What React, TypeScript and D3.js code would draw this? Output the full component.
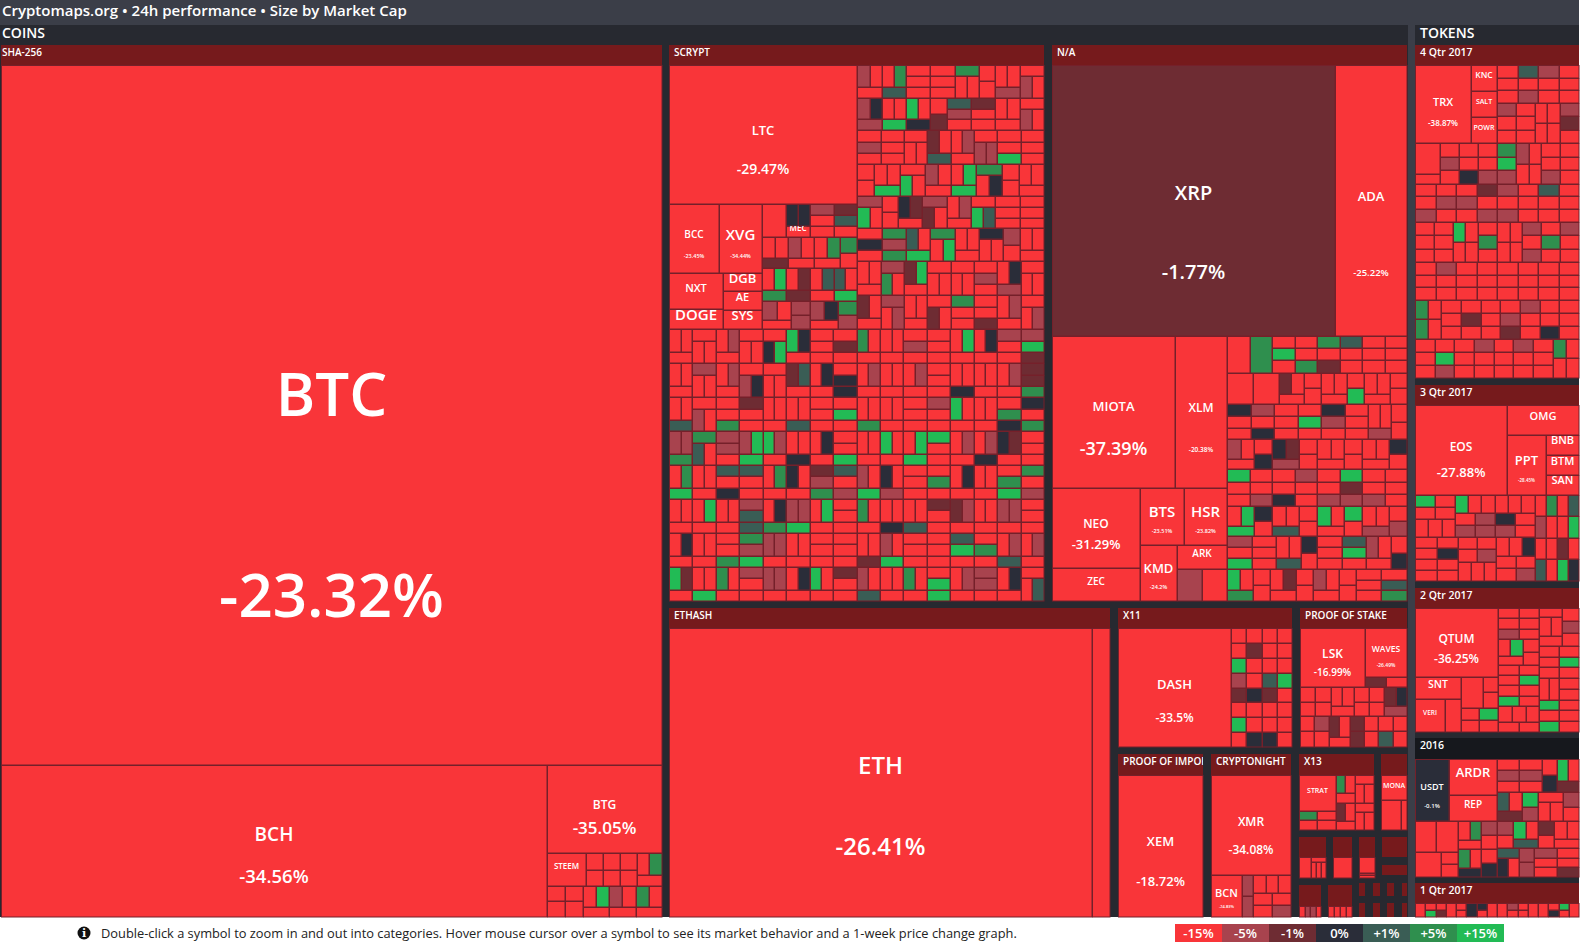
import React from "react";
import * as d3 from "d3";

// ---------- data ----------
const TITLE = "Cryptomaps.org • 24h performance • Size by Market Cap";
const FOOTER = "Double-click a symbol to zoom in and out into categories. Hover mouse cursor over a symbol to see its market behavior and a 1-week price change graph.";
const LEGEND_LABELS = ["-15%", "-5%", "-1%", "0%", "+1%", "+5%", "+15%"];
const PERF_THRESHOLDS = [-10, -3, -0.5, 0.5, 3, 10];
const SWATCHES = ["#f93539", "#a8434e", "#6e2c33", "#2a2d39", "#3a5d55", "#2f8f4e", "#22bb55"];
// change (%) read for an unlabelled cell, by colour band
const CODE_PERF: Record<string, number> = { r: -20, m: -5, d: -1.5, n: 0, t: 1.5, g: 5, l: 15 };

// named coins: change % (null = not printed in the tile)
const PERF: Record<string, number | null> = {
  BTC: -23.32, BCH: -34.56, BTG: -35.05, STEEM: null, LTC: -29.47, BCC: -23.45, XVG: -34.44, NXT: null, DOGE: null, DGB: null, AE: null, SYS: null, MEC: null,
  XRP: -1.77, ADA: -25.22, MIOTA: -37.39, XLM: -20.38, NEO: -31.29, ZEC: null, BTS: -23.51, HSR: -23.82, KMD: -24.2, ARK: null,
  ETH: -26.41, ETC: null, DASH: -33.5, LSK: -16.99, WAVES: -26.49, XEM: -18.72, XMR: -34.08, BCN: -24.83, STRAT: null, MONA: null,
  TRX: -38.87, KNC: null, SALT: null, POWR: null, EOS: -27.88, OMG: null, PPT: -28.45, BNB: null, BTM: null, SAN: null,
  QTUM: -36.25, SNT: null, VERI: null, USDT: -0.1, ARDR: null, REP: null,
};
// market cap, in units of one small tile
const CAP: Record<string, number> = {
  BTC: 1690, BCH: 303, BTG: 37, STEEM: 4.6, LTC: 98.5, BCC: 12.9, XVG: 11.4, NXT: 7.5, DOGE: 4.1, DGB: 2.7, AE: 2.8, SYS: 2.8, MEC: 1,
  XRP: 291, ADA: 74, MIOTA: 70.4, XLM: 30.3, NEO: 26.6, ZEC: 11.1, BTS: 9.7, HSR: 9.4, KMD: 7.9, ARK: 4.5,
  ETH: 463, ETC: 19.7, DASH: 50.5, LSK: 14.5, WAVES: 7.6, XEM: 46, XMR: 30, BCN: 4.9, STRAT: 4.9, MONA: 3.3,
  TRX: 17.2, KNC: 2.6, SALT: 2.6, POWR: 2.6, EOS: 31.7, OMG: 8.3, PPT: 8.8, BNB: 2.5, BTM: 2.5, SAN: 2.5,
  QTUM: 21.4, SNT: 3.7, VERI: 3.7, USDT: 8.1, ARDR: 6.6, REP: 4.9,
};

// small tiles: "/" separates stacked rows, letters are colour bands, a digit is a relative cap
const SHA_ROW_A = ["r/r", "r/r", "r/r", "rg/r"];
const SHA_ROW_B = ["r/r", "r/r", "rl/r", "mr/r", "gr/r"];

const SCRYPT_RIGHT = [
  ["mr/r", "rg/t", "r/r/r", "r/r/r", "g/rr", "r/r", "rr/m", "r/mr"],
  ["mn/m", "rr/l", "lr/n", "r/d", "t/m/r", "d/r/r", "rr/r", "r/mr"],
  ["r/m/r", "r/r/r", "r/rr", "dr/t", "rm/r", "r/mm", "r/r/l", "r/r/r"],
  ["r/r", "rr/l", "r/lr", "mr/r", "rl/l", "g/rn", "r/r", "rr/r"],
  ["m/lr", "r/r", "nd/r", "m/dr", "rm/r", "r/lt", "r/r/r", "r/r/r"],
  ["r/n/r", "g/m/g", "tr/l", "g/rl", "rr/r", "n/rr", "m/r", "rr/r"],
  ["rr/r", "m/gr", "dl/r", "r/rr", "r/rr", "r/m/r", "rn/m", "r/rr"],
  ["dr/r", "m/rm", "rr/r", "r/dr", "g/r/r", "r/r/d", "rm/r", "r/rm"],
];
const SCRYPT_MID_A = ["m/r/r", "d/t/r"];
const SCRYPT_MID_B = ["rr/d", "mr/r", "rg/r", "g/r"];
const SCRYPT_MID_C = ["rl/g", "rd/d", "rt/r", "tr/l"];
const SCRYPT_MID_D = ["mr/r", "m/m", "mn/r", "g/m"];
const SCRYPT_LOWER = [
  ["rr/r", "r/rr", "rm/r", "r/rr", "r/nl", "ln/r", "r/r/r", "r/d/r", "gr/r", "rr/r", "r/m/r", "r/r/r", "rl/r", "rn/r", "m/r/r", "m/l/d"],
  ["rr/r", "m/rr", "rm/r", "r/mn", "r/rr", "dt/r", "rn/r", "r/n/n", "rm/r", "rr/r", "rm/r", "r/r/r", "rr/n", "rr/r", "rm/r", "d/d/g"],
  ["rr/t", "r/mr", "r/r/g", "d/r/r", "rr/r", "rr/t", "r/r/r", "r/l/r", "rr/g", "rr/r", "r/r/r", "m/r/r", "lr/r", "rr/r", "r/g/n", "n/r/g"],
  ["mm/g", "g/tr", "m/m/r", "ml/l", "lm/r", "rr/n", "rn/r", "r/r/l", "rr/r", "lr/r", "rl/l", "l/r/r", "rm/r", "rm/n", "nd/r", "r/r/r"],
  ["rg/l", "rr/r", "t/r/n", "t/r/r", "rg/r", "nr/r", "d/m/g", "t/r/m", "mr/l", "nr/m", "r/r/r", "r/g/r", "rn/r", "rr/r", "r/g/l", "g/r/m"],
  ["rr/r", "rl/r", "rr/r", "m/t/t", "rn/g", "mm/l", "rl/r", "r/r/r", "gr/r", "rr/n", "rr/t", "d/r/r", "dm/r", "rr/r", "mm/r", "r/r/r"],
  ["rn/r", "rr/r", "r/r/g", "g/m/l", "mm/r", "rr/r", "r/r/r", "r/r/r", "rr/d", "mr/l", "r/r/r", "r/r/r", "t/l/r", "r/g/r", "rm/t", "rm/r"],
  ["ld/r", "rr/l", "gr/r", "m/r/r", "mm/r", "rn/r", "lr/r", "d/r/r", "mr/t", "rr/r", "gr/r", "r/l/l", "rm/r", "m/m/r", "rn/r", "r/rt"],
];

const NA_RIGHT = [
  ["r3", "g3", "r/l/r", "r/r/g", "g/r/d", "t/r/r", "r/r/r", "r/r/r"],
  ["r3", "r3", "dr/r", "r/r", "rr/r", "r/l", "rr/r", "r/r"],
  ["n/r/r", "m/r/n", "r/r/r", "r/l/r", "n/m/r", "r/r/r", "rr/m", "r/r"],
  ["mr/r", "r/n", "nd/m", "r/r", "rr/r", "r/r", "rr/r", "n/r"],
  ["l/r/r", "r/r/m", "r/r/n", "m/r/r", "r/r/m", "l/d/m", "r/r/m", "r/r/r"],
  ["rl/l", "n/r", "rr/t", "r/r", "lr/r", "l/r", "rr/m", "r/m"],
  ["m/r/l", "r/r/r", "rr/t", "n/r", "r/r/r", "t/l/r", "mr/r", "r/n"],
  ["lr/g", "r/r", "rd/r", "r/r", "mr/r", "r/r", "r/r/r", "r/t/g"],
];

const X11_GRID = [["rrrr"], ["rdrr"], ["lrrr"], ["mrtl"], ["dndr"], ["rrrr"], ["lrrr"], ["rnnr"]];
const POS_ROW_A = ["r/r", "r/r", "rr/r", "r/r", "r/r", "dn/m"];
const POS_ROW_B = ["r/r", "m/r", "dr/r", "d/d", "r/r", "r/t", "r/r"];
const CN_SMALL = ["m/m", "rrr/rr/rm"];
const X13_LOW_LEFT = ["g/r", "r/r"];
const X13_RIGHT_A = ["gr/r", "r/rr"];
const X13_RIGHT_B = ["dr/r", "r/rr"];

const Q4_ROWS_TOP = [["r/r/r", "t/r/m", "m/r/r", "r/r/r"], ["m/r/r", "r/r/r", "rr/rr", "m/d/r"]];
const Q4_ROWS = [
  ["r3/r", "r/m/r", "r/r/n", "r/r/m", "g/l/m", "mr/rr", "r/r/m", "r/r/r"],
  ["r/r/m", "r/m/r", "r/m/r", "d/r/m", "m/r/m", "r/r/r", "t/r/r", "r/r/r"],
  ["r/r/r", "r/r/r", "lr/rr", "r/g/r", "rr/rr", "m/r/m", "r/g/r", "m/r/r"],
  ["r/r/r", "m/r/r", "r/r/r", "r/r/r", "r/r/r", "r/r/r", "r/r/r", "r/r/r"],
  ["gr/gr", "r/r/r", "r/d/r", "r/r/r", "r/m/d", "m/r/r", "r/r/n", "r/r/r"],
  ["r/r/r", "r/l/m", "r/r/r", "m/r/r", "r/r/r", "m/r/r", "r/r/r", "gr/rr"],
];
const Q3_RIGHT = [["r", "g", "r", "t"], ["m", "r", "r", "l"], ["r", "r", "d", "r"], ["t", "r", "l", "n"]];
const Q3_A = ["l/r", "r/r"];
const Q3_B = ["r/m", "m/m", "n/m", "r/r"];
const Q3_C = ["r/r", "r/m"];
const Q2_LEFT = [["r/r/m", "r/r/r"], ["rl/r", "r/r"], ["r/r/r/l", "r/l/r/r"], ["rrr/rr"]];
const Q2_RIGHT = [["r/rr/r", "r/m/r"], ["r/r/r", "r/l/r"], ["rr/l", "r/r/r"], ["r/l", "r/r"]];
const Y2016_TOP_A = ["r/m/r", "r/m/r", "r/n", "lr/d"];
const Y2016_TOP_B = ["tr/d", "l/m", "r/rr", "m/r"];
const Y2016_LOW_A = ["rg/r", "m/r"];
const Y2016_LOW_B = ["gr/n", "r/n"];
const Y2016_LOW_C = ["m/r", "lr/t", "d/r", "rr/r"];
const Y2016_LOW_D = ["t/nr", "m/m", "m/r/r", "r/r/d"];
const Q1_CELLS = ["r2", "r/l", "r/d", "r2", "r/r", "n2", "n/r", "r2", "r2", "m/r", "r/r", "r2", "r2", "r/n", "l/r", "r2"];
const MINI_A = ["r3", "r/rrr"];
const MINI_E = ["r", "m", "m", "r"];
const MINI_F = ["r", "r", "r", "r"];

// ---------- tile tree helpers ----------
type N = { dir?: "h" | "v"; children?: N[]; value?: number; code?: string; sym?: string };
const leaf = (code: string, value = 1): N => ({ code, value });
const coin = (sym: string): N => ({ sym, value: CAP[sym] });
const wrap = (x: N | string): N => (typeof x === "string" ? block(x) : x);
const h = (...xs: (N | string)[]): N => ({ dir: "h", children: xs.map(wrap) });
const v = (...xs: (N | string)[]): N => ({ dir: "v", children: xs.map(wrap) });
function block(s: string): N {
  const rows = s.split("/").map((row) => {
    const cells = Array.from(row.matchAll(/([a-z])(\d?)/g)).map((m) => leaf(m[1], m[2] ? +m[2] : 1));
    return cells.length === 1 ? cells[0] : ({ dir: "h", children: cells } as N);
  });
  return rows.length === 1 ? rows[0] : { dir: "v", children: rows };
}
const hRow = (row: string[]) => h(...row);
const vRows = (rows: string[][]) => v(...rows.map(hRow));
function u(k: number, n: N): N {
  if (n.children) return { ...n, children: n.children.map((c) => u(k, c)) };
  return n.sym ? n : { ...n, value: (n.value || 1) * k };
}

// ---------- trees per panel ----------
const shaTree = v(
  coin("BTC"),
  h(coin("BCH"), v(coin("BTG"), v(h(coin("STEEM"), ...SHA_ROW_A), hRow(SHA_ROW_B))))
);
const scryptTree = v(
  h(
    v(
      coin("LTC"),
      h(
        v(h(coin("BCC"), coin("XVG")), h(v(coin("NXT"), coin("DOGE")), v(coin("DGB"), coin("AE"), coin("SYS")))),
        v(
          h("r3", v("nn", coin("MEC")), ...SCRYPT_MID_A),
          hRow(SCRYPT_MID_B),
          hRow(SCRYPT_MID_C),
          hRow(SCRYPT_MID_D)
        )
      )
    ),
    vRows(SCRYPT_RIGHT)
  ),
  vRows(SCRYPT_LOWER)
);
const naTree = v(
  h(coin("XRP"), coin("ADA")),
  h(
    v(
      h(coin("MIOTA"), coin("XLM")),
      h(
        v(coin("NEO"), coin("ZEC")),
        v(h(coin("BTS"), coin("HSR")), h(coin("KMD"), v(coin("ARK"), "m3r3")))
      )
    ),
    u(1.03, vRows(NA_RIGHT))
  )
);
const ethashTree = h(coin("ETH"), { code: "r", sym: "ETC", value: CAP.ETC });
const x11Tree = h(coin("DASH"), u(0.85, vRows(X11_GRID)));
const posTree = v(
  h(coin("LSK"), v(coin("WAVES"), u(0.8, h("d", "r")))),
  u(0.83, v(hRow(POS_ROW_A), hRow(POS_ROW_B)))
);
const xemTree = h(coin("XEM"));
const cnTree = v(coin("XMR"), h(coin("BCN"), u(0.85, hRow(CN_SMALL))));
const x13Tree = h(
  v(coin("STRAT"), u(0.65, hRow(X13_LOW_LEFT))),
  u(0.65, v(hRow(X13_RIGHT_A), hRow(X13_RIGHT_B)))
);
const monaTree = v(coin("MONA"), h("r3", "r"));
const q4Tree = v(
  h(coin("TRX"), v(coin("KNC"), coin("SALT"), coin("POWR")), vRows(Q4_ROWS_TOP)),
  vRows(Q4_ROWS)
);
const q3Tree = v(
  h(coin("EOS"), v(coin("OMG"), h(coin("PPT"), v(coin("BNB"), coin("BTM"), coin("SAN"))))),
  u(0.92, h(
    v(
      h(v(hRow(Q3_A), "rrr"), v("lrrrrr", hRow(Q3_B))),
      h("r/r/r/r", "r/n/r/r", v(hRow(Q3_C), "rrr"), v("rrn", "rr", "rm"))
    ),
    vRows(Q3_RIGHT)
  ))
);
const q2Tree = h(
  v(
    coin("QTUM"),
    h(v(coin("SNT"), h(coin("VERI"), "r2")), u(0.85, v(h("r3", "r/r"), "rl", "rr")))
  ),
  u(0.8, h(vRows(Q2_LEFT), vRows(Q2_RIGHT)))
);
const y2016Tree = v(
  h(coin("USDT"), v(coin("ARDR"), coin("REP")), u(0.93, v(hRow(Y2016_TOP_A), hRow(Y2016_TOP_B)))),
  u(0.83, h(
    v(h("r3", "r3"), h("r3", "r/r")),
    v(hRow(Y2016_LOW_A), hRow(Y2016_LOW_B)),
    v(hRow(Y2016_LOW_C), hRow(Y2016_LOW_D))
  ))
);
const q1Tree = hRow(Q1_CELLS);
const miniA = hRow(MINI_A);
const miniE = hRow(MINI_E);
const miniF = hRow(MINI_F);

// ---------- layout (frame geometry, not data) ----------
const W = 1582, H = 948, BOTTOM = 917, RIGHT = 1579;
const HEADER_RED = "#761a1c";
type Panel = { label: string; x0: number; x1: number; y0: number; y1: number; head: number; tree: N; fs?: number; dx?: number; fill?: string };
const PANELS: Panel[] = [
  { label: "SHA-256", x0: 1, x1: 662, y0: 45, y1: BOTTOM, head: 20, tree: shaTree, dx: 1, fs: 10 },
  { label: "SCRYPT", x0: 669, x1: 1044, y0: 45, y1: 601, head: 20, tree: scryptTree, fs: 10 },
  { label: "N/A", x0: 1052, x1: 1407, y0: 45, y1: 601, head: 20, tree: naTree, fs: 10 },
  { label: "ETHASH", x0: 669, x1: 1110, y0: 608, y1: BOTTOM, head: 20, tree: ethashTree, fs: 10 },
  { label: "X11", x0: 1118, x1: 1292, y0: 608, y1: 747, head: 20, tree: x11Tree, fs: 10 },
  { label: "PROOF OF STAKE", x0: 1300, x1: 1407, y0: 608, y1: 747, head: 20, tree: posTree, fs: 10 },
  { label: "PROOF OF IMPORTANCE", x0: 1118, x1: 1203, y0: 754, y1: BOTTOM, head: 21, tree: xemTree, fs: 10 },
  { label: "CRYPTONIGHT", x0: 1211, x1: 1291, y0: 754, y1: BOTTOM, head: 21, tree: cnTree, fs: 10 },
  { label: "X13", x0: 1299, x1: 1374, y0: 754, y1: 830, head: 21, tree: x13Tree, fs: 10 },
  { label: "", x0: 1381, x1: 1407, y0: 754, y1: 830, head: 21, tree: monaTree },
  { label: "", x0: 1299, x1: 1326, y0: 837, y1: 878, head: 20, tree: miniA },
  { label: "", x0: 1333, x1: 1352, y0: 837, y1: 878, head: 20, tree: leaf("r") },
  { label: "", x0: 1359, x1: 1375, y0: 837, y1: 878, head: 20, tree: block("r6/r1/r1") },
  { label: "", x0: 1299, x1: 1321, y0: 885, y1: BOTTOM, head: 21, tree: miniE },
  { label: "", x0: 1328, x1: 1352, y0: 885, y1: BOTTOM, head: 21, tree: miniF },
  { label: "4 Qtr 2017", x0: 1415, x1: RIGHT, y0: 45, y1: 378, head: 20, tree: q4Tree },
  { label: "3 Qtr 2017", x0: 1415, x1: RIGHT, y0: 385, y1: 581, head: 20, tree: q3Tree },
  { label: "2 Qtr 2017", x0: 1415, x1: RIGHT, y0: 588, y1: 732, head: 20, tree: q2Tree },
  { label: "2016", x0: 1415, x1: RIGHT, y0: 738, y1: 877, head: 21, tree: y2016Tree, fill: "#16181d" },
  { label: "1 Qtr 2017", x0: 1415, x1: RIGHT, y0: 883, y1: BOTTOM, head: 20, tree: q1Tree },
];
// tiny collapsed groups that show only their dark band
const BANDS: [number, number, number, number][] = [
  [1382, 1407, 837, 857], [1382, 1407, 865, 875],
  [1359, 1365, 883, 896], [1373, 1380, 883, 896], [1387, 1394, 883, 896], [1402, 1407, 883, 896],
  [1359, 1365, 903, 917], [1373, 1380, 903, 917], [1387, 1394, 903, 917], [1402, 1407, 903, 917],
];

// label sizes: [symbol size, change size, symbol y fraction, change y fraction]
const LABEL_STYLE: Record<string, [number, number, number?, number?]> = {
  BTC: [60, 60, 0.47, 0.757], BCH: [19, 18.5, 0.455, 0.733], BTG: [12, 17, 0.45, 0.715], STEEM: [8, 0, 0.41], LTC: [13, 14], BCC: [10, 5.5, 0.44], XVG: [15, 5.5, 0.44],
  NXT: [11, 0, 0.41], DOGE: [15, 0, 0.28], DGB: [13, 0, 0.27], AE: [11, 0, 0.3], SYS: [13, 0, 0.27], MEC: [8, 0, 0.2],
  XRP: [20, 20, 0.47, 0.762], ADA: [13, 9.5, 0.485, 0.765], MIOTA: [13, 18, 0.465, 0.74], XLM: [12, 6.5], NEO: [12, 13, 0.44, 0.71], ZEC: [10, 0, 0.41], BTS: [15, 5.5, 0.42], HSR: [15, 5.5, 0.42], KMD: [13, 5.5, 0.42], ARK: [10, 0, 0.37],
  ETH: [24, 24, 0.475, 0.757], DASH: [13, 12], LSK: [12, 10, 0.44], WAVES: [8.5, 5, 0.42], XEM: [13, 13], XMR: [12, 12], BCN: [11, 4, 0.42], STRAT: [7, 0, 0.43], MONA: [7, 0, 0.42],
  TRX: [11, 8], KNC: [8.5, 0, 0.38], SALT: [7, 0, 0.42], POWR: [7, 0, 0.39], EOS: [12, 13, 0.46, 0.745], OMG: [11, 0, 0.38], PPT: [13, 4.5, 0.42], BNB: [11, 0, 0.26], BTM: [11, 0, 0.3], SAN: [11, 0, 0.26],
  QTUM: [12, 12, 0.45, 0.73], SNT: [10.5, 0, 0.34], VERI: [6.5, 0, 0.42], USDT: [9, 6, 0.45], ARDR: [13, 0, 0.37], REP: [10, 0, 0.38],
};

const color = d3.scaleThreshold<number, string>().domain(PERF_THRESHOLDS).range(SWATCHES);
const tile = (node: any, x0: number, y0: number, x1: number, y1: number) =>
  (node.data.dir === "h" ? d3.treemapDice : d3.treemapSlice)(node, x0, y0, x1, y1);

const FONT = "'Open Sans', sans-serif";
const STROKE = "#75202a";

function PanelView({ p }: { p: Panel }) {
  const top = p.y0 + p.head;
  const root = d3.hierarchy<N>(p.tree, (d) => d.children).sum((d) => (d.children ? 0 : d.value || 0));
  d3.treemap<N>().size([p.x1 - p.x0, p.y1 - top]).tile(tile as any).round(true)(root);
  const leaves = root.leaves() as any[];
  return (
    <g>
      <rect x={p.x0} y={p.y0} width={p.x1 - p.x0} height={p.head} fill={p.fill || HEADER_RED} />
      {p.label && (
        <svg x={p.x0} y={p.y0} width={p.x1 - p.x0} height={p.head}>
          <text x={p.dx ?? 5} y={7} dy="0.36em" fontSize={p.fs ?? 10.5} fontWeight={600} fill="#fff">{p.label}</text>
        </svg>
      )}
      <g transform={`translate(${p.x0},${top})`}>
        {leaves.map((n, i) => {
          const d = n.data as N;
          const perf = d.sym && PERF[d.sym] != null ? (PERF[d.sym] as number) : CODE_PERF[d.code || "r"];
          const w = n.x1 - n.x0, ht = n.y1 - n.y0;
          return (
            <rect key={i} x={n.x0 + 0.5} y={n.y0 + 0.5} width={Math.max(0, w - 0.5)} height={Math.max(0, ht - 0.5)} fill={color(perf)} stroke={STROKE} strokeWidth={1} />
          );
        })}
        {leaves.filter((n) => n.data.sym && LABEL_STYLE[n.data.sym]).map((n) => {
          const sym = n.data.sym as string;
          const [fs, pfs, yf, pyf] = LABEL_STYLE[sym];
          const w = n.x1 - n.x0, ht = n.y1 - n.y0;
          const perf = PERF[sym];
          const cx = w / 2;
          return (
            <svg key={sym} x={n.x0} y={n.y0} width={w} height={ht}>
              <text x={cx} y={ht * (yf ?? (perf != null ? 0.47 : 0.4))} dy="0.36em" textAnchor="middle" fontSize={fs} fontWeight={600} fill="#fff">{sym}</text>
              {perf != null && pfs > 0 && (
                <text x={cx} y={ht * (pyf ?? 0.75)} dy="0.36em" textAnchor="middle" fontSize={pfs} fontWeight={600} fill="#fff">{perf}%</text>
              )}
            </svg>
          );
        })}
      </g>
    </g>
  );
}

const legendX = d3.scaleBand<string>().domain(LEGEND_LABELS).range([1175, 1504]);

export default function App() {
  return (
    <svg width={W} height={H} viewBox={`0 0 ${W} ${H}`} style={{ position: "fixed", left: 0, top: 0, display: "block", fontFamily: FONT }}>
      <rect width={W} height={H} fill="#fff" />
      <rect width={RIGHT} height={BOTTOM} fill="#272930" />
      <rect width={RIGHT} height={25} fill="#3b3e48" />
      <rect x={1408} y={25} width={7} height={BOTTOM - 25} fill="#3b3e48" />
      <text x={2} y={10.5} dy="0.36em" fontSize={15} fontWeight={600} fill="#fff">{TITLE}</text>
      <text x={2} y={33} dy="0.36em" fontSize={14} fontWeight={600} fill="#fff">COINS</text>
      <text x={1420} y={33} dy="0.36em" fontSize={14} fontWeight={600} fill="#fff">TOKENS</text>
      {PANELS.map((p, i) => <PanelView key={i} p={p} />)}
      {BANDS.map(([x0, x1, y0, y1], i) => <rect key={i} x={x0} y={y0} width={x1 - x0} height={y1 - y0} fill={HEADER_RED} />)}
      <g transform="translate(84,933)">
        <circle r={6.5} fill="#111" />
        <text y={0.5} dy="0.36em" textAnchor="middle" fontSize={11} fontWeight={800} fontFamily="'DejaVu Serif', serif" fill="#fff">i</text>
      </g>
      <text x={101} y={933} dy="0.36em" fontSize={12.83} fill="#222">{FOOTER}</text>
      {LEGEND_LABELS.map((l, i) => (
        <g key={l}>
          <rect x={legendX(l)} y={924} width={legendX.bandwidth()} height={18} fill={SWATCHES[i]} />
          <text x={(legendX(l) as number) + legendX.bandwidth() / 2} y={933} dy="0.36em" textAnchor="middle" fontSize={13} fontWeight={600} fill="#fff">{l}</text>
        </g>
      ))}
    </svg>
  );
}
